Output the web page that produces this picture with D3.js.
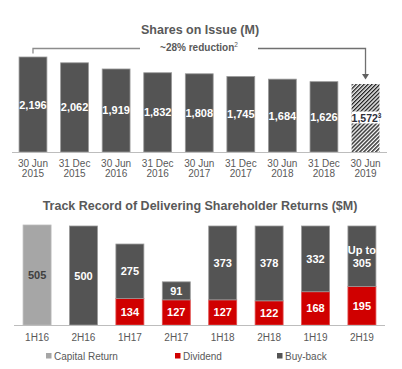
<!DOCTYPE html>
<html><head><meta charset="utf-8">
<script src="https://cdn.jsdelivr.net/npm/d3@7"></script>
<style>body{margin:0;background:#fff}svg{display:block;font-family:"Liberation Sans",Arial,sans-serif}</style>
</head><body>
<svg id="c" width="402" height="369"></svg>
<script>
// ---- data ----
const shareDates = [["30 Jun","2015"],["31 Dec","2015"],["30 Jun","2016"],["31 Dec","2016"],["30 Jun","2017"],["31 Dec","2017"],["30 Jun","2018"],["31 Dec","2018"],["30 Jun","2019"]];
const shareValues = [2196, 2062, 1919, 1832, 1808, 1745, 1684, 1626, 1572];
const shareLabels = ["2,196","2,062","1,919","1,832","1,808","1,745","1,684","1,626","1,572"];
const periods = ["1H16","2H16","1H17","2H17","1H18","2H18","1H19","2H19"];
const capitalReturn = [505, 0, 0, 0, 0, 0, 0, 0];
const dividend = [0, 0, 134, 127, 127, 122, 168, 195];
const buyback = [0, 500, 275, 91, 373, 378, 332, 305];
const legendNames = ["Capital Return","Dividend","Buy-back"];

const svg = d3.select("#c");
const txt = "#595959", dark = "#545454", red = "#d00000", light = "#a6a6a6";

// hatch pattern
const defs = svg.append("defs");
const pat = defs.append("pattern").attr("id","hatch").attr("patternUnits","userSpaceOnUse")
  .attr("width",2.8).attr("height",2.8).attr("patternTransform","rotate(45)");
pat.append("rect").attr("width",2.8).attr("height",2.8).attr("fill","#fff");
pat.append("line").attr("x1",0.7).attr("y1",0).attr("x2",0.7).attr("y2",2.8).attr("stroke","#222").attr("stroke-width",1.4);

// ---- top chart ----
const x1 = d3.scaleBand().domain(d3.range(shareValues.length)).range([12.2, 386.3]).paddingInner(0.33).paddingOuter(0.165);
const y1 = d3.scaleLinear().domain([0, 2196]).range([152, 57]);
const g1 = svg.append("g");
g1.append("text").attr("x",200).attr("y",33.5).attr("text-anchor","middle").attr("font-size",12.5).attr("font-weight","bold").attr("fill",txt).text("Shares on Issue (M)");
const red28 = g1.append("text").attr("x",199).attr("y",51).attr("text-anchor","middle").attr("font-size",10).attr("font-weight","bold").attr("fill",txt);
red28.append("tspan").text("~28% reduction");
red28.append("tspan").attr("font-size",6.5).attr("dy",-4).attr("font-weight","normal").text("2");

const cx0 = x1(0) + x1.bandwidth()/2, cxN = x1(8) + x1.bandwidth()/2;
g1.append("path").attr("d",`M${cx0},53.5V48.5H140`).attr("fill","none").attr("stroke","#8c8c8c").attr("stroke-width",1.3);
g1.append("path").attr("d",`M258,48.5H${cxN}V75`).attr("fill","none").attr("stroke","#707070").attr("stroke-width",1.3);
g1.append("path").attr("d",`M${cxN-3.5},74L${cxN+3.5},74L${cxN},79.5Z`).attr("fill","#606060");

shareValues.forEach((v,i)=>{
  const last = i === shareValues.length-1;
  g1.append("rect").attr("x",x1(i)).attr("y",y1(v)).attr("width",x1.bandwidth()).attr("height",y1(0)-y1(v))
    .attr("fill", last ? "url(#hatch)" : dark).attr("stroke", last ? "none" : "#9a9a9a").attr("stroke-width",0.8);
  const cy = (y1(v)+y1(0))/2;
  if (last) {
    g1.append("rect").attr("x",x1(i)).attr("y",cy-6.5).attr("width",x1.bandwidth()).attr("height",12).attr("fill","#fff");
    const t = g1.append("text").attr("x",x1(i)+x1.bandwidth()/2+1).attr("y",cy+4).attr("text-anchor","middle").attr("font-size",10.5).attr("font-weight","bold").attr("fill","#2e2e3a");
    t.append("tspan").text(shareLabels[i]);
    t.append("tspan").attr("font-size",6.5).attr("dy",-4).text("3");
  } else {
    g1.append("text").attr("x",x1(i)+x1.bandwidth()/2).attr("y",cy+4).attr("text-anchor","middle").attr("font-size",11).attr("font-weight","bold").attr("fill","#fff").text(shareLabels[i]);
  }
  const c = g1.append("text").attr("text-anchor","middle").attr("font-size",10).attr("fill",txt);
  c.append("tspan").attr("x",x1(i)+x1.bandwidth()/2).attr("y",166.5).text(shareDates[i][0]);
  c.append("tspan").attr("x",x1(i)+x1.bandwidth()/2).attr("y",177).text(shareDates[i][1]);
});
g1.append("line").attr("x1",12).attr("x2",387).attr("y1",152.5).attr("y2",152.5).attr("stroke","#bdbdbd").attr("stroke-width",1.2);

// ---- bottom chart ----
const x2 = d3.scaleBand().domain(periods).range([13.8, 385.2]).paddingInner(0.397).paddingOuter(0.2);
const y2 = d3.scaleLinear().domain([0, 500]).range([325, 226]);
const g2 = svg.append("g");
g2.append("text").attr("x",200).attr("y",209.5).attr("text-anchor","middle").attr("font-size",12.5).attr("font-weight","bold").attr("fill",txt).text("Track Record of Delivering Shareholder Returns ($M)");

periods.forEach((p,i)=>{
  const bx = x2(p), bw = x2.bandwidth(), cx = bx + bw/2;
  let base = 0;
  const segs = [
    {v: capitalReturn[i], fill: light, tc: "#404040", stroke: "#bbb"},
    {v: dividend[i], fill: red, tc: "#fff", stroke: "#e05050"},
    {v: buyback[i], fill: dark, tc: "#fff", stroke: "#9a9a9a"}
  ];
  segs.forEach(s=>{
    if (!s.v) return;
    const yTop = y2(base + s.v), yBot = y2(base);
    g2.append("rect").attr("x",bx).attr("y",yTop).attr("width",bw).attr("height",yBot-yTop).attr("fill",s.fill).attr("stroke",s.stroke).attr("stroke-width",0.8);
    const cy = (yTop+yBot)/2;
    if (i === periods.length-1 && s.fill === dark) {
      const t = g2.append("text").attr("text-anchor","middle").attr("font-size",11).attr("font-weight","bold").attr("fill",s.tc);
      t.append("tspan").attr("x",cx).attr("y",cy-2).text("Up to");
      t.append("tspan").attr("x",cx).attr("y",cy+11).text(String(s.v));
    } else {
      g2.append("text").attr("x",cx).attr("y",cy+4).attr("text-anchor","middle").attr("font-size",11).attr("font-weight","bold").attr("fill",s.tc).text(String(s.v));
    }
    base += s.v;
  });
  g2.append("text").attr("x",cx).attr("y",341).attr("text-anchor","middle").attr("font-size",10).attr("fill",txt).text(p);
});
g2.append("line").attr("x1",14).attr("x2",385).attr("y1",325.5).attr("y2",325.5).attr("stroke","#bdbdbd").attr("stroke-width",1.2);

// legend
const legX = [46, 175, 277], legC = [light, red, dark];
legendNames.forEach((n,i)=>{
  g2.append("rect").attr("x",legX[i]).attr("y",353).attr("width",5.5).attr("height",5.5).attr("fill",legC[i]);
  g2.append("text").attr("x",legX[i]+8).attr("y",359.5).attr("font-size",10).attr("fill",txt).text(n);
});
</script>
</body></html>
